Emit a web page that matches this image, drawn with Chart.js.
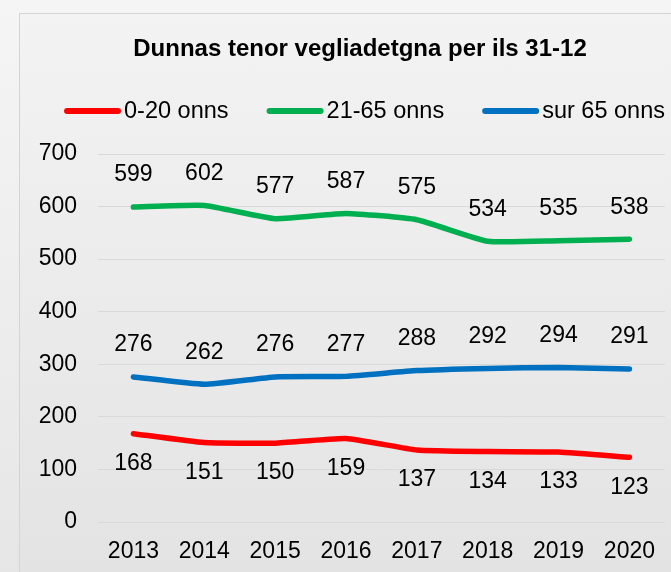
<!DOCTYPE html>
<html>
<head>
<meta charset="utf-8">
<script src="https://cdn.jsdelivr.net/npm/chart.js@4/dist/chart.umd.min.js"></script>
<style>
  html, body { margin: 0; padding: 0; }
  body {
    width: 671px; height: 572px; overflow: hidden; position: relative;
    background: linear-gradient(to bottom, #f5f5f5, #e6e6e6);
    font-family: "Liberation Sans", Arial, sans-serif;
  }
  #box {
    position: absolute; left: 19px; top: 13px; width: 700px; height: 600px;
    border: 1px solid #d4d4d4;
    background: linear-gradient(to bottom, #f3f3f3 0%, #e3e3e3 95%);
  }
  #c { position: absolute; left: 0; top: 0; }
</style>
</head>
<body>
<div id="box"></div>
<canvas id="c" width="671" height="572"></canvas>
<script>
const titleText = "Dunnas tenor vegliadetgna per ils 31-12";
const categories = ["2013", "2014", "2015", "2016", "2017", "2018", "2019", "2020"];
const seriesNames = ["0-20 onns", "21-65 onns", "sur 65 onns"];
const age0to20 = [168, 151, 150, 159, 137, 134, 133, 123];
const age21to65 = [599, 602, 577, 587, 575, 534, 535, 538];
const ageOver65 = [276, 262, 276, 277, 288, 292, 294, 291];
const yTicks = [0, 100, 200, 300, 400, 500, 600, 700];

const colors = ["#ff0000", "#00b050", "#0070c0"];
const labelOffsets = [30, -32, -32];
const FONT = '"Liberation Sans", Arial, sans-serif';

const decor = {
  id: 'decor',
  afterDraw(chart) {
    const ctx = chart.ctx;
    ctx.save();
    // title
    ctx.fillStyle = '#000';
    ctx.font = 'bold 24px ' + FONT;
    ctx.textAlign = 'center';
    ctx.textBaseline = 'middle';
    ctx.fillText(titleText, 360, 49);

    // legend
    ctx.font = '23.5px ' + FONT;
    const sw = 57, gapText = 3, gapItem = 38;
    const widths = chart.data.datasets.map(d => sw + gapText + ctx.measureText(d.label).width);
    const total = widths.reduce((a, b) => a + b, 0) + gapItem * (widths.length - 1);
    let x = 364.5 - total / 2;
    const ly = 111;
    chart.data.datasets.forEach((d, i) => {
      ctx.strokeStyle = d.borderColor;
      ctx.lineWidth = 6;
      ctx.lineCap = 'round';
      ctx.beginPath();
      ctx.moveTo(x + 3, ly);
      ctx.lineTo(x + sw - 3, ly);
      ctx.stroke();
      ctx.fillStyle = '#000';
      ctx.textAlign = 'left';
      ctx.fillText(d.label, x + sw + gapText, ly + 1);
      x += widths[i] + gapItem;
    });

    // data labels
    ctx.font = '23px ' + FONT;
    ctx.textAlign = 'center';
    ctx.textBaseline = 'middle';
    ctx.fillStyle = '#000';
    chart.data.datasets.forEach((d, i) => {
      const meta = chart.getDatasetMeta(i);
      meta.data.forEach((pt, j) => {
        ctx.fillText(String(d.data[j]), pt.x, pt.y + labelOffsets[i]);
      });
    });
    ctx.restore();
  }
};

const seriesData = [age0to20, age21to65, ageOver65];

new Chart(document.getElementById('c'), {
  type: 'line',
  data: {
    labels: categories,
    datasets: seriesNames.map((n, i) => ({
      label: n,
      data: seriesData[i],
      borderColor: colors[i],
      backgroundColor: colors[i],
      borderWidth: 5.5,
      pointRadius: 0,
      borderCapStyle: 'round',
      borderJoinStyle: 'round',
      tension: 0.15,
      fill: false
    }))
  },
  options: {
    responsive: false,
    animation: false,
    devicePixelRatio: 1,
    layout: { padding: { top: 154, right: 0, bottom: 0, left: 0 } },
    plugins: {
      legend: { display: false },
      title: { display: false },
      tooltip: { enabled: false }
    },
    scales: {
      x: {
        offset: true,
        grid: { display: false, drawTicks: false },
        border: { display: false },
        ticks: { color: '#000', font: { size: 23, family: FONT }, padding: 16, maxRotation: 0, autoSkip: false },
        afterFit(s) { s.height = 50; }
      },
      y: {
        min: 0, max: 700,
        afterBuildTicks(s) { s.ticks = yTicks.map(v => ({ value: v })); },
        grid: { color: '#d9d9d9', lineWidth: 1, drawTicks: false },
        border: { display: false },
        ticks: { color: '#000', font: { size: 23, family: FONT }, padding: 21 },
        afterFit(s) { s.width = 98; }
      }
    }
  },
  plugins: [decor]
});
</script>
</body>
</html>
